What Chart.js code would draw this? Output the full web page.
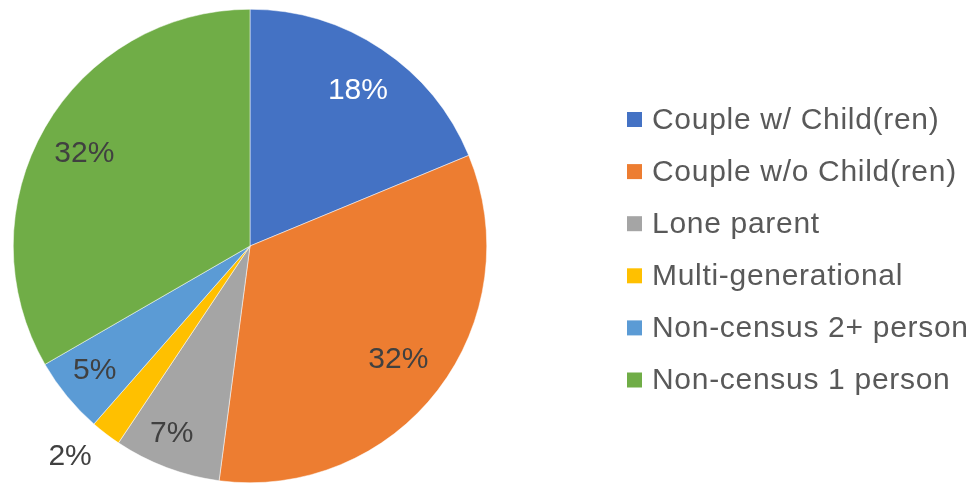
<!DOCTYPE html>
<html>
<head>
<meta charset="utf-8">
<script src="https://cdn.jsdelivr.net/npm/chart.js@4.4.1/dist/chart.umd.min.js"></script>
<style>
  html, body { margin: 0; padding: 0; background: #ffffff; }
  #wrap { width: 976px; height: 483px; position: relative; }
</style>
</head>
<body>
<div id="wrap"><canvas id="pieChart"></canvas></div>
<script>
const categories = [
    'Couple w/ Child(ren)',
    'Couple w/o Child(ren)',
    'Lone parent',
    'Multi-generational',
    'Non-census 2+ person',
    'Non-census 1 person'
];
const shares = [18, 32, 7, 2, 5, 32];
const colors = ['#4472C4', '#ED7D31', '#A5A5A5', '#FFC000', '#5B9BD5', '#70AD47'];
const labelColors = ['#ffffff', '#404040', '#404040', '#404040', '#404040', '#404040'];

// where each percent label sits: fraction of radius + small angle nudge (deg)
const labelRadius = [0.80, 0.79, 0.86, 1.17, 0.84, 0.80];
const labelNudge = [1, 0, 2, 3, 0.7, -1];

const fontFamily = '"Liberation Sans", Arial, sans-serif';

// percent labels drawn on top of the slices
const sliceLabels = {
    id: 'sliceLabels',
    afterDatasetsDraw(chart) {
        const ctx = chart.ctx;
        const meta = chart.getDatasetMeta(0);
        ctx.save();
        ctx.font = '30px ' + fontFamily;
        ctx.textAlign = 'center';
        ctx.textBaseline = 'middle';
        meta.data.forEach((arc, i) => {
            const p = arc.getProps(['x', 'y', 'startAngle', 'endAngle', 'outerRadius'], true);
            const mid = (p.startAngle + p.endAngle) / 2 + labelNudge[i] * Math.PI / 180;
            const r = p.outerRadius * labelRadius[i];
            ctx.fillStyle = labelColors[i];
            ctx.fillText(shares[i] + '%', p.x + Math.cos(mid) * r, p.y + Math.sin(mid) * r);
        });
        ctx.restore();
    }
};

// legend to the right, Excel style
const sideLegend = {
    id: 'sideLegend',
    afterDraw(chart) {
        const ctx = chart.ctx;
        const x0 = 627, y0 = 119.5, step = 52.1, box = 15;
        ctx.save();
        ctx.font = '30px ' + fontFamily;
        ctx.letterSpacing = '0.7px';
        ctx.textAlign = 'left';
        ctx.textBaseline = 'middle';
        chart.data.labels.forEach((lab, i) => {
            const y = y0 + i * step;
            ctx.fillStyle = colors[i];
            ctx.fillRect(x0, y - box / 2, box, box);
            ctx.fillStyle = '#595959';
            ctx.fillText(lab, x0 + box + 10, y + 1);
        });
        ctx.restore();
    }
};

document.addEventListener('DOMContentLoaded', function() {
    const ctx = document.getElementById('pieChart');
    new Chart(ctx, {
        type: 'pie',
        data: {
            labels: categories,
            datasets: [{
                data: shares,
                backgroundColor: colors,
                borderColor: '#ffffff',
                borderWidth: 0.5
            }]
        },
        options: {
            responsive: true,
            maintainAspectRatio: false,
            animation: false,
            layout: { padding: { left: 13, top: 9, right: 489, bottom: 0 } },
            plugins: {
                legend: { display: false },
                tooltip: { enabled: false }
            }
        },
        plugins: [sliceLabels, sideLegend]
    });
});
</script>
</body>
</html>
